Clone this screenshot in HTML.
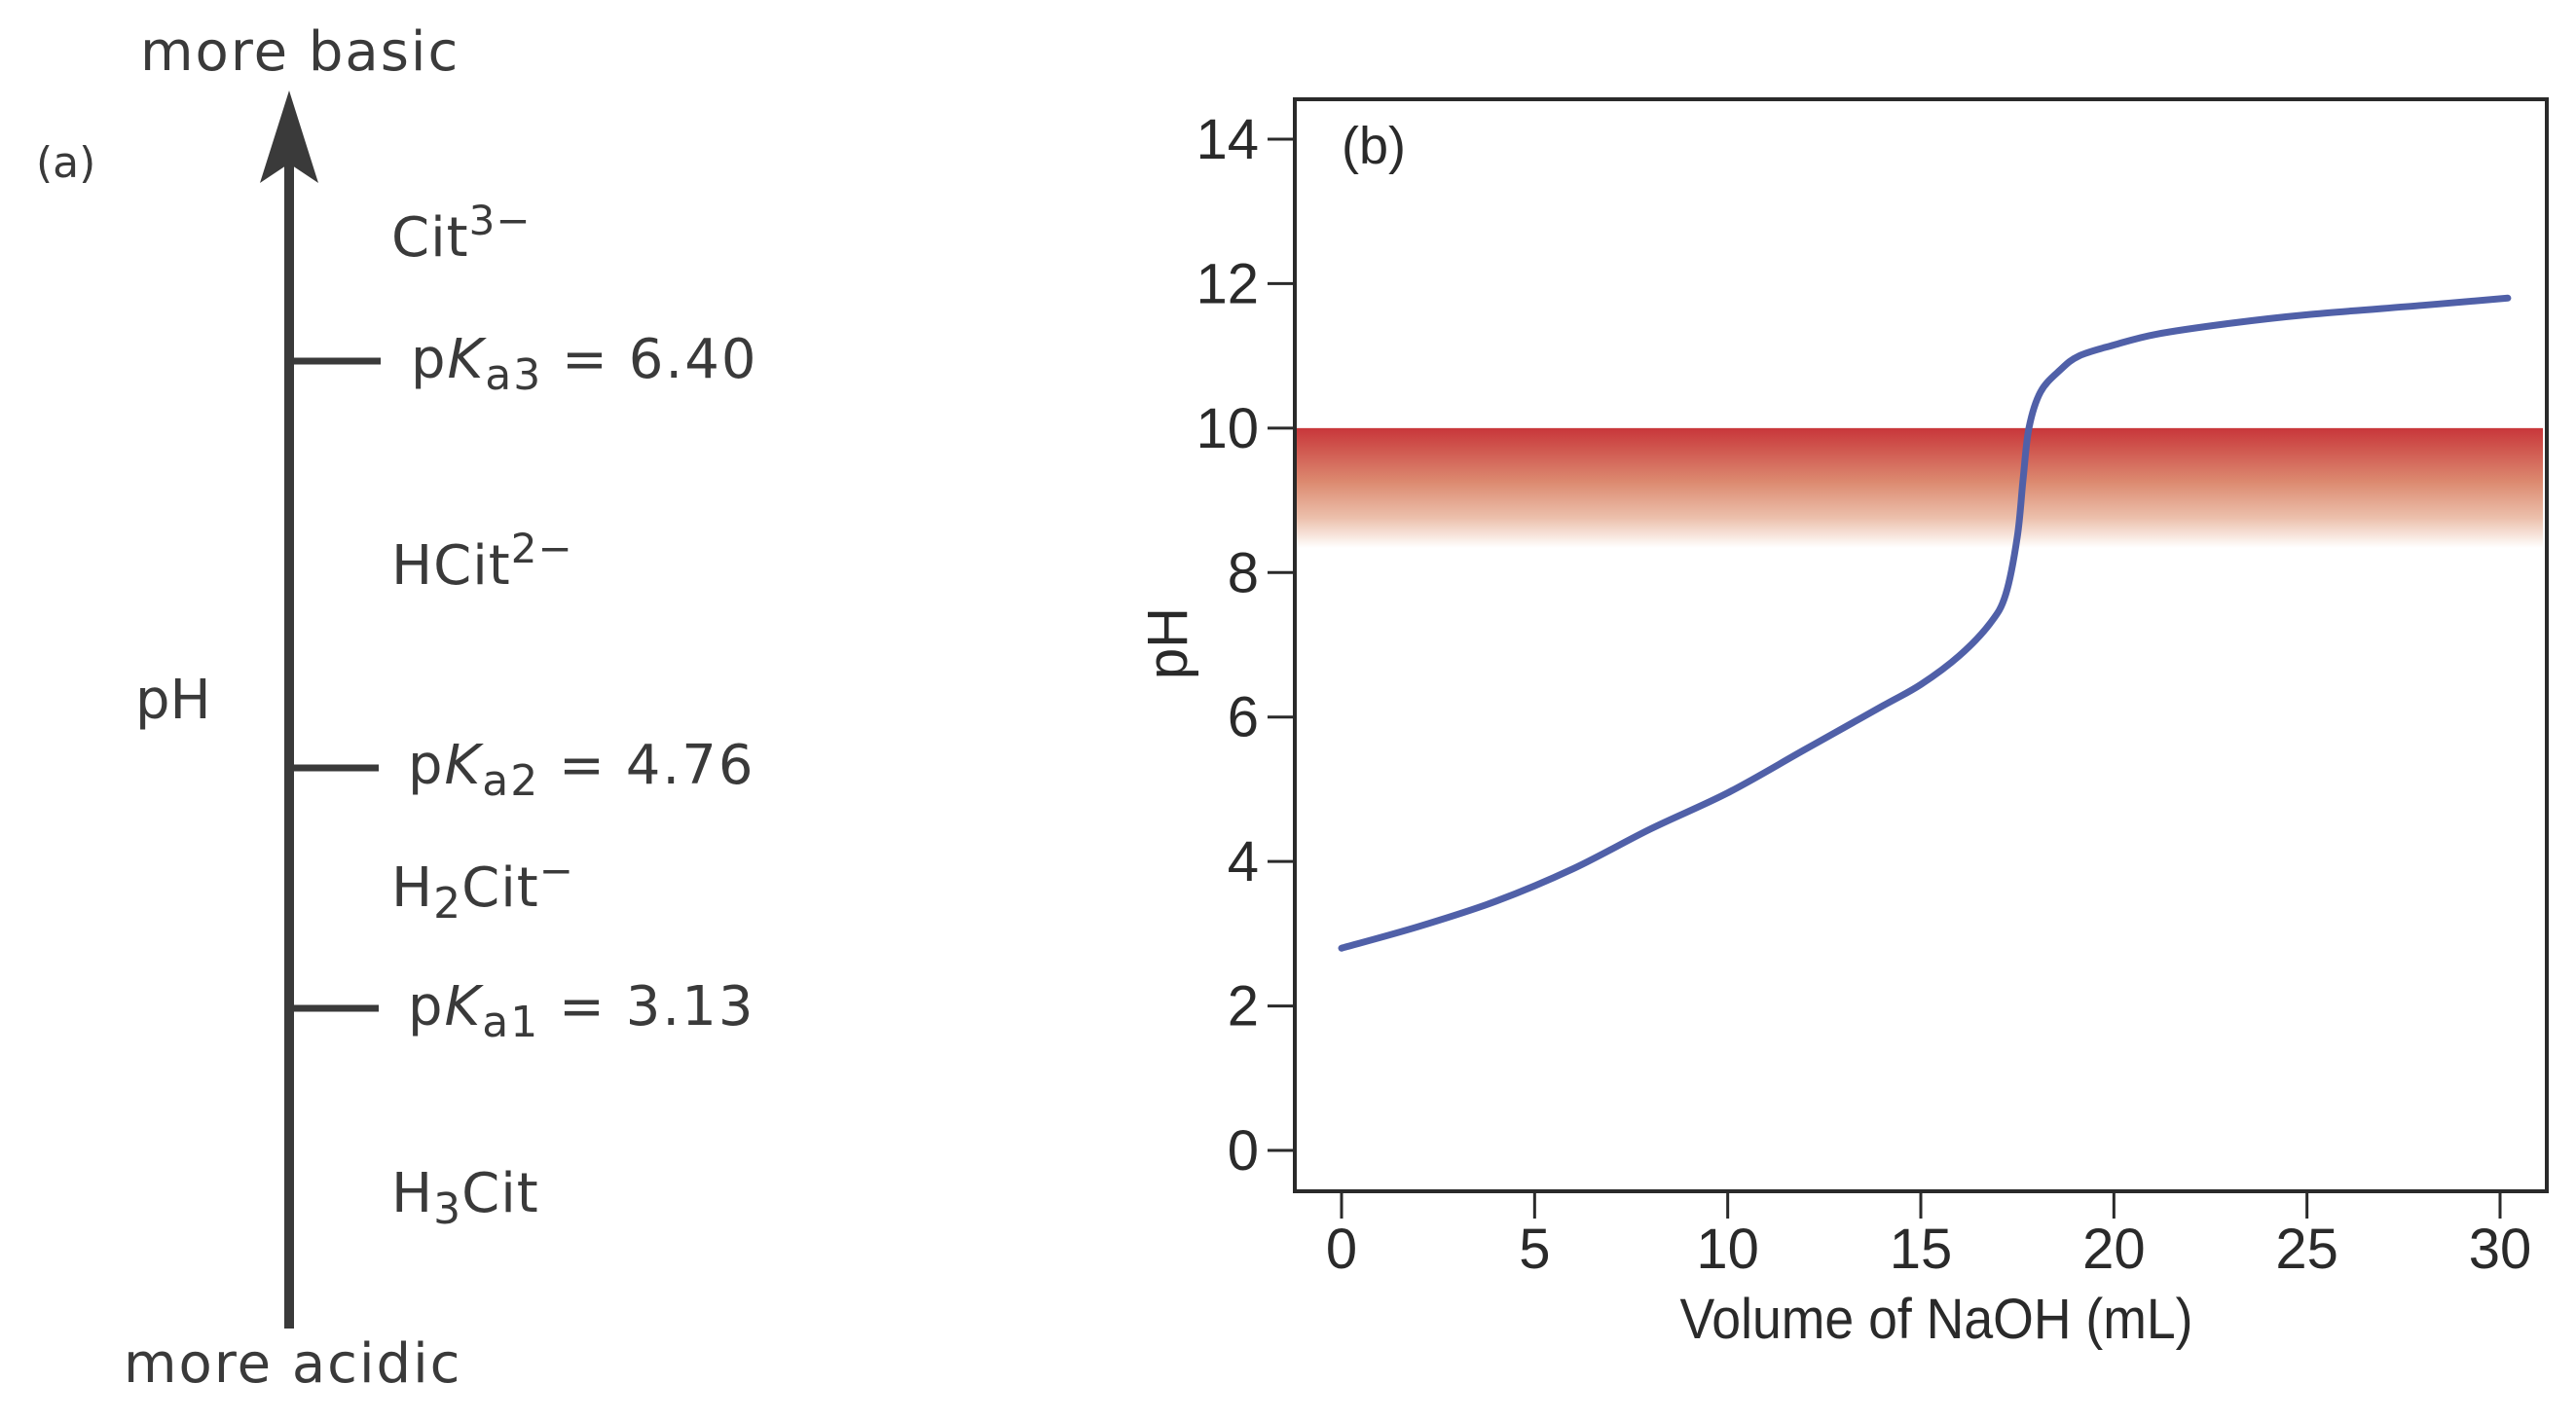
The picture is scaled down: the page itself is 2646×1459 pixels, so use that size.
<!DOCTYPE html>
<html><head><meta charset="utf-8">
<style>
html,body{margin:0;padding:0;background:#fff;}
svg{display:block;}
.lt{font-family:"DejaVu Sans",sans-serif;fill:#3a3a3a;font-size:56px;}
.ct{font-family:"Liberation Sans Narrow","Liberation Sans",sans-serif;fill:#2a2a2a;font-size:58px;}
</style></head>
<body>
<svg id="s" width="2646" height="1459" viewBox="0 0 2646 1459">
<defs>
<linearGradient id="band" x1="0" y1="0" x2="0" y2="1">
<stop offset="0" stop-color="#c8363a"/>
<stop offset="0.45" stop-color="#dc8a70"/>
<stop offset="0.75" stop-color="#ecc0ac"/>
<stop offset="1" stop-color="#ffffff"/>
</linearGradient>
</defs>
<g>
<text class="lt" x="37" y="182" style="font-size:44px">(a)</text>
<text class="lt" x="144" y="72" letter-spacing="2">more basic</text>
<text class="lt" x="127" y="1420" letter-spacing="2">more acidic</text>
<line x1="297" y1="150" x2="297" y2="1365" stroke="#3a3a3a" stroke-width="10"/>
<polygon points="297,93 267,188 297,168 327,188" fill="#3a3a3a"/>
<line x1="297" y1="371" x2="391" y2="371" stroke="#3a3a3a" stroke-width="7"/>
<line x1="297" y1="789" x2="389" y2="789" stroke="#3a3a3a" stroke-width="7"/>
<line x1="297" y1="1036" x2="389" y2="1036" stroke="#3a3a3a" stroke-width="7"/>
<text class="lt" x="139" y="738">pH</text>
<text class="lt" x="402" y="263" letter-spacing="1">Cit<tspan dy="-22" style="font-size:42px">3−</tspan></text>
<text class="lt" x="422" y="388" letter-spacing="2">p<tspan font-style="italic">K</tspan><tspan dy="12" style="font-size:44px">a3</tspan><tspan dy="-12"> = 6.40</tspan></text>
<text class="lt" x="402" y="600" letter-spacing="1">HCit<tspan dy="-22" style="font-size:42px">2−</tspan></text>
<text class="lt" x="419" y="805" letter-spacing="2">p<tspan font-style="italic">K</tspan><tspan dy="12" style="font-size:44px">a2</tspan><tspan dy="-12"> = 4.76</tspan></text>
<text class="lt" x="402" y="931" letter-spacing="1">H<tspan dy="12" style="font-size:44px">2</tspan><tspan dy="-12">Cit</tspan><tspan dy="-22" style="font-size:42px">−</tspan></text>
<text class="lt" x="419" y="1053" letter-spacing="2">p<tspan font-style="italic">K</tspan><tspan dy="12" style="font-size:44px">a1</tspan><tspan dy="-12"> = 3.13</tspan></text>
<text class="lt" x="402" y="1245" letter-spacing="1">H<tspan dy="12" style="font-size:44px">3</tspan><tspan dy="-12">Cit</tspan></text>
</g>
<g id="chart"></g>
</svg>
<script>
const xTicks = [0,5,10,15,20,25,30];
const yTicks = [0,2,4,6,8,10,12,14];
const volume = [0,2,4,6,8,10,12,14,15,16,16.8,17.2,17.5,17.65,17.8,18.1,18.6,19.1,20,21.1,23,25,28,30.2];
const phValues = [2.8,3.1,3.45,3.9,4.45,4.95,5.55,6.15,6.45,6.85,7.3,7.7,8.5,9.3,10.0,10.5,10.8,11.0,11.15,11.3,11.45,11.57,11.7,11.8];
const bandTop = [10];
const bandBottom = [8.34];

const NS="http://www.w3.org/2000/svg";
const g=document.getElementById('chart');
const L=1330,R=2616,T=102,B=1224;
const sx=v=>1378+v*(2568-1378)/30;
const sy=p=>1182-p*(1182-143)/14;
function mk(tag,attrs,parent){const e=document.createElementNS(NS,tag);for(const k in attrs)e.setAttribute(k,attrs[k]);(parent||g).appendChild(e);return e;}

const band=mk('rect',{x:L,y:sy(bandTop[0]),width:R-L-4,height:sy(bandBottom[0])-sy(bandTop[0]),fill:'url(#band)'});



const frame=mk('rect',{x:L,y:T,width:R-L,height:B-T,fill:'none',stroke:'#2a2a2a','stroke-width':4});



xTicks.forEach(v=>{
  const t=mk('line',{x1:sx(v),x2:sx(v),y1:B,y2:B+28,stroke:'#2a2a2a','stroke-width':3});
  
  
  const l=mk('text',{x:sx(v),y:1303,'text-anchor':'middle',class:'ct'});
  l.textContent=v;
  
  
});
yTicks.forEach(v=>{
  const t=mk('line',{x1:1302,x2:L,y1:sy(v),y2:sy(v),stroke:'#2a2a2a','stroke-width':3});
  
  
  const l=mk('text',{x:1293,y:sy(v)+20,'text-anchor':'end',class:'ct'});
  l.textContent=v;
  
  
});

const pts=volume.map((v,i)=>[sx(v),sy(phValues[i])]);
let d='M'+pts[0][0]+','+pts[0][1];
for(let i=0;i<pts.length-1;i++){
  const p0=pts[Math.max(0,i-1)],p1=pts[i],p2=pts[i+1],p3=pts[Math.min(pts.length-1,i+2)];
  const c1=[p1[0]+(p2[0]-p0[0])/6,p1[1]+(p2[1]-p0[1])/6];
  const c2=[p2[0]-(p3[0]-p1[0])/6,p2[1]-(p3[1]-p1[1])/6];
  d+=` C${c1[0]},${c1[1]} ${c2[0]},${c2[1]} ${p2[0]},${p2[1]}`;
}
const line=mk('path',{d:d,fill:'none',stroke:'#5060a8','stroke-width':7,'stroke-linecap':'round'});



const pb=mk('text',{x:1378,y:168,class:'ct',style:'font-size:54px'});
pb.textContent='(b)';



const xt=mk('text',{x:1989,y:1375,'text-anchor':'middle',class:'ct',textLength:527,lengthAdjust:'spacingAndGlyphs'});
xt.textContent='Volume of NaOH (mL)';



const yt=mk('text',{x:0,y:0,'text-anchor':'middle',class:'ct',transform:'translate(1219,661) rotate(-90)'});
yt.textContent='pH';


</script>
</body></html>
